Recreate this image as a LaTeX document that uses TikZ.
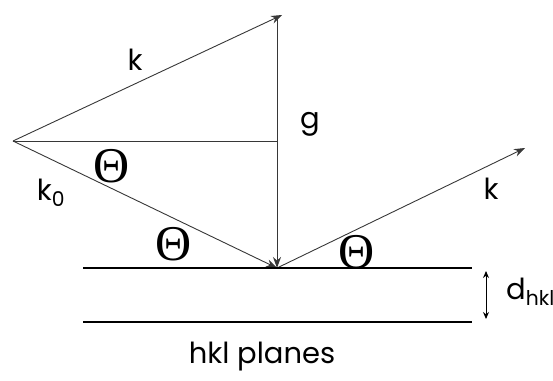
\documentclass[tikz,border=0pt]{standalone}
\usepackage{fontspec}
\setmainfont{Poppins}
\newfontfamily\thetafont{Liberation Serif}
\usepackage{xcolor}
\usepackage{tikz}
\usetikzlibrary{arrows.meta, positioning}
\definecolor{linegray}{RGB}{55, 55, 55}

\begin{document}
\begin{tikzpicture}[x=1pt, y=-1pt,
    vec/.style={linegray, line width=0.9pt, -{Stealth[length=11pt, width=8pt]}},
    plane/.style={black, line width=1.7pt},
    lbl/.style={font=\fontsize{29}{33}\selectfont, inner sep=0pt},
    ang/.style={font=\fontsize{50}{54}\thetafont, inner sep=0pt}]
\useasboundingbox (0,0) rectangle (553,380);

% Points of the construction
\coordinate (apex) at (13,141);
\coordinate (ktip) at (282,15);
\coordinate (gtop) at (277,17);
\coordinate (gfoot) at (277,141);
\coordinate (hit) at (277,268);
\coordinate (kout) at (525,148);

% Vectors
\draw[vec] (apex) -- (ktip);
\draw[linegray, line width=0.9pt] (apex) -- (gfoot);
\draw[vec] (apex) -- (hit);
\draw[vec] (gtop) -- (hit);
\draw[vec] (hit) -- (kout);

% hkl planes
\coordinate (p1a) at (83,268);
\coordinate (p1b) at (472,268);
\coordinate (p2a) at (83,322);
\coordinate (p2b) at (472,322);
\draw[plane] (p1a) -- (p1b);
\draw[plane] (p2a) -- (p2b);

\coordinate (dtop) at (486,271);
\coordinate (dbot) at (486,319);
\draw[black, line width=0.9pt, {Stealth[length=7pt, width=6pt]}-{Stealth[length=7pt, width=6pt]}] (dtop) -- (dbot);

% Labels
\node[lbl] (klab) at (135,60) {k};
\node[lbl] (glab) at (310,124) {g};
\node[lbl] (k0lab) at (51,193) {k\textsubscript{0}};
\node[lbl] (koutlab) at (491,189) {k};
\node[lbl, anchor=west] (dlab) at (506,292) {d\textsubscript{hkl}};
\node[lbl] (planelab) at (262,357) {hkl planes};

\node[ang] (th1) at (112,166) {Θ};
\node[ang] (th2) at (174,244) {Θ};
\node[ang] (th3) at (357,252) {Θ};
\end{tikzpicture}
\end{document}
